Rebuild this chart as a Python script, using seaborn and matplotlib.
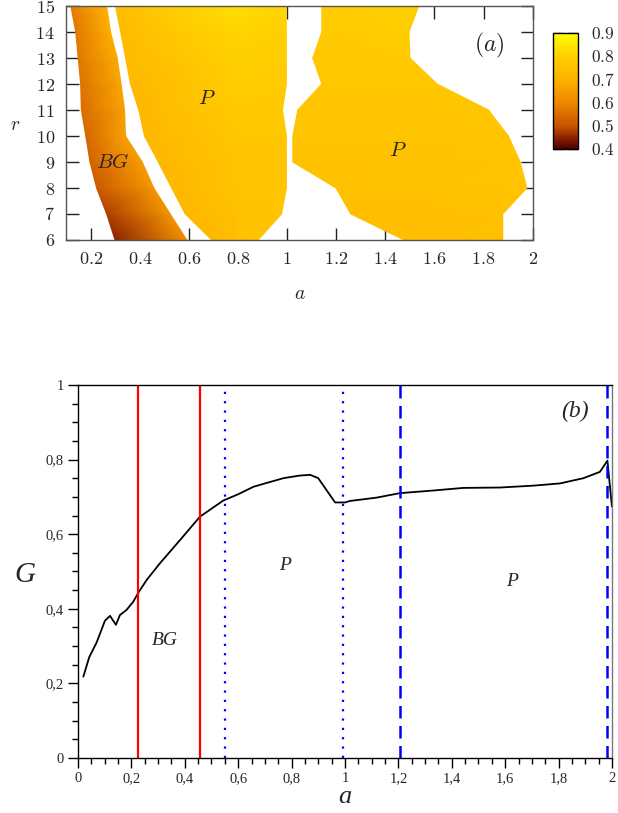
import numpy as np
import matplotlib
matplotlib.use("Agg")
import matplotlib.pyplot as plt
import matplotlib.tri as mtri
from matplotlib.colors import LinearSegmentedColormap
from matplotlib.ticker import MultipleLocator, FuncFormatter, FixedLocator
import seaborn as sns

# ------------------------------
# DATA - panel (a): phase regions in the (a, r) plane
# ------------------------------
r_rows = [6, 7, 8, 9, 10, 11, 12, 13, 14, 15]

# BG region (left strip)
bg_left_a = [0.299, 0.265, 0.224, 0.197, 0.180, 0.162, 0.159, 0.149, 0.139, 0.119]
bg_right_a = [0.592, 0.524, 0.457, 0.410, 0.342, 0.338, 0.324, 0.308, 0.281, 0.265]
bg_left_g = [0.45, 0.48, 0.51, 0.53, 0.54, 0.55, 0.56, 0.57, 0.57, 0.58]
bg_right_g = [0.62, 0.63, 0.64, 0.65, 0.66, 0.66, 0.67, 0.68, 0.69, 0.70]

# first P region
p1_left_a = [0.693, 0.585, 0.530, 0.475, 0.419, 0.396, 0.362, 0.342, 0.322, 0.301]
p1_mid_a = [0.80, 0.80, 0.80, 0.80, 0.80, 0.80, 0.80, 0.80, 0.80, 0.80]
p1_right_a = [0.882, 0.977, 0.997, 0.997, 0.997, 0.981, 0.997, 0.997, 0.997, 0.997]
p1_left_g = [0.72, 0.72, 0.72, 0.72, 0.72, 0.72, 0.72, 0.73, 0.73, 0.74]
p1_mid_g = [0.75, 0.75, 0.76, 0.76, 0.77, 0.78, 0.79, 0.80, 0.81, 0.83]
p1_right_g = [0.76, 0.76, 0.76, 0.76, 0.77, 0.77, 0.78, 0.79, 0.80, 0.81]

# second P region
p2_left_a = [1.476, 1.259, 1.199, 1.023, 1.023, 1.043, 1.141, 1.104, 1.141, 1.141]
p2_right_a = [1.878, 1.878, 1.976, 1.949, 1.901, 1.820, 1.611, 1.500, 1.496, 1.536]
p2_left_g = [0.74, 0.74, 0.75, 0.75, 0.76, 0.76, 0.77, 0.77, 0.78, 0.79]
p2_right_g = [0.75, 0.75, 0.76, 0.76, 0.76, 0.77, 0.77, 0.78, 0.79, 0.80]

cbar_ticks = [0.4, 0.5, 0.6, 0.7, 0.8, 0.9]
cmap_levels = [0.4, 0.45, 0.5, 0.6, 0.7, 0.8, 0.9]
cmap_colors = ["#4a0000", "#8e2400", "#c85400", "#ec8800", "#ffb200", "#ffd000", "#ffff00"]

# ------------------------------
# DATA - panel (b): G versus a
# ------------------------------
a_curve = [0.02, 0.042, 0.07, 0.101, 0.12, 0.142, 0.157, 0.182, 0.207, 0.226,
           0.257, 0.307, 0.382, 0.457, 0.544, 0.60, 0.657, 0.71, 0.769, 0.83,
           0.87, 0.90, 0.931, 0.963, 1.0, 1.019, 1.119, 1.206, 1.331, 1.443,
           1.58, 1.705, 1.805, 1.893, 1.955, 1.983, 2.0]
g_curve = [0.218, 0.27, 0.31, 0.368, 0.381, 0.357, 0.383, 0.397, 0.419, 0.443,
           0.477, 0.522, 0.584, 0.647, 0.69, 0.707, 0.727, 0.738, 0.750, 0.757,
           0.759, 0.75, 0.718, 0.685, 0.685, 0.689, 0.698, 0.71, 0.717, 0.724,
           0.725, 0.73, 0.736, 0.75, 0.767, 0.797, 0.674]

red_lines = [0.224, 0.457]
dotted_lines = [0.55, 0.992]
dashed_lines = [1.208, 1.983]

# ------------------------------
# STYLE
# ------------------------------
sns.set_style("ticks")
plt.rcParams["font.family"] = ["Liberation Serif", "DejaVu Serif"]
plt.rcParams["mathtext.fontset"] = "cm"

fig = plt.figure(figsize=(6.18, 8.13), dpi=100)

# ------------------------------
# PANEL (a)
# ------------------------------
ax1 = fig.add_axes([0.107, 0.7048, 0.755, 0.2878])
cmap = LinearSegmentedColormap.from_list(
    "gpal", [((v - 0.4) / 0.5, c) for v, c in zip(cmap_levels, cmap_colors)])


def draw_region(ax, cols_a, cols_g):
    ncol = len(cols_a)
    xs, ys, zs = [], [], []
    for i, r in enumerate(r_rows):
        for k in range(ncol):
            xs.append(cols_a[k][i])
            ys.append(r)
            zs.append(cols_g[k][i])
    tris = []
    for i in range(len(r_rows) - 1):
        for k in range(ncol - 1):
            p0 = i * ncol + k
            p1 = p0 + 1
            p2 = (i + 1) * ncol + k + 1
            p3 = (i + 1) * ncol + k
            tris.append([p0, p1, p2])
            tris.append([p0, p2, p3])
    tri = mtri.Triangulation(xs, ys, tris)
    return ax.tripcolor(tri, zs, cmap=cmap, vmin=0.4, vmax=0.9,
                        shading="gouraud", rasterized=True)


m = draw_region(ax1, [bg_left_a, bg_right_a], [bg_left_g, bg_right_g])
draw_region(ax1, [p1_left_a, p1_mid_a, p1_right_a], [p1_left_g, p1_mid_g, p1_right_g])
draw_region(ax1, [p2_left_a, p2_right_a], [p2_left_g, p2_right_g])

ax1.set_xlim(0.1, 2.0)
ax1.set_ylim(6, 15)
ax1.xaxis.set_major_locator(FixedLocator([0.2, 0.4, 0.6, 0.8, 1.0, 1.2, 1.4, 1.6, 1.8, 2.0]))
ax1.yaxis.set_major_locator(MultipleLocator(1))
ax1.xaxis.set_major_formatter(FuncFormatter(lambda v, p: f"${round(v, 2):g}$"))
ax1.yaxis.set_major_formatter(FuncFormatter(lambda v, p: f"${round(v, 2):g}$"))
ax1.tick_params(direction="in", length=9, width=1.0, color="#222222",
                top=True, right=True, labelsize=13, pad=8)
for s in ax1.spines.values():
    s.set_color("#555555")
    s.set_linewidth(1.0)
ax1.text(0.50, -0.235, "$a$", fontsize=14, ha="center", va="center",
         transform=ax1.transAxes)
ax1.text(-0.109, 0.49, "$r$", fontsize=14, ha="center", va="center",
         transform=ax1.transAxes)

ax1.text(1.824, 13.5, "$(a)$", fontsize=17, ha="center", va="center")
ax1.text(0.673, 11.41, "$P$", fontsize=15, ha="center", va="center")
ax1.text(0.292, 8.95, "$BG$", fontsize=15, ha="center", va="center")
ax1.text(1.449, 9.4, "$P$", fontsize=15, ha="center", va="center")

cax = fig.add_axes([0.895, 0.8167, 0.0405, 0.1427])
cb = fig.colorbar(m, cax=cax, ticks=cbar_ticks)
cb.outline.set_edgecolor("black")
cb.outline.set_linewidth(1.0)
cb.ax.yaxis.set_major_formatter(FuncFormatter(lambda v, p: f"${v:.1f}$"))
cb.ax.tick_params(direction="in", left=True, right=True, length=8,
                  width=1.0, color="#333333", labelsize=12.5, pad=9)

# ------------------------------
# PANEL (b)
# ------------------------------
ax2 = fig.add_axes([0.1262, 0.0677, 0.864, 0.4588])
sns.lineplot(x=a_curve, y=g_curve, color="black", linewidth=1.3, ax=ax2)

for xv in red_lines:
    ax2.axvline(xv, color="red", linewidth=1.6)
for xv in dotted_lines:
    ax2.axvline(xv, color="blue", linewidth=1.6, linestyle=(0, (1, 3.2)))
for xv in dashed_lines:
    ax2.axvline(xv, color="blue", linewidth=1.8, linestyle=(0, (5, 3)))

ax2.set_xlim(0, 2)
ax2.set_ylim(0, 1)
ax2.xaxis.set_major_locator(MultipleLocator(0.2))
ax2.xaxis.set_minor_locator(MultipleLocator(0.05))
ax2.yaxis.set_major_locator(MultipleLocator(0.2))
ax2.yaxis.set_minor_locator(MultipleLocator(0.05))
comma = FuncFormatter(lambda v, p: f"{round(v, 2):g}".replace(".", ","))
ax2.xaxis.set_major_formatter(comma)
ax2.yaxis.set_major_formatter(comma)
ax2.tick_params(which="major", direction="out", length=7, width=1.0,
                color="black", labelsize=10.5, pad=3)
ax2.tick_params(which="minor", direction="out", length=4, width=1.0, color="black")
for s in ax2.spines.values():
    s.set_visible(True)
    s.set_color("black")
    s.set_linewidth(1.0)
ax2.spines["right"].set_color("#777777")

ax2.text(0.50, -0.104, "a", fontsize=19, style="italic", ha="center", va="center",
         transform=ax2.transAxes)
ax2.text(-0.099, 0.49, "G", fontsize=21, style="italic", ha="center", va="center",
         transform=ax2.transAxes)
for t, xy, fs in [("(b)", (1.861, 0.928), 17), ("P", (0.775, 0.517), 14),
                  ("BG", (0.326, 0.316), 14), ("P", (1.625, 0.472), 14)]:
    ax2.text(xy[0], xy[1], t, fontsize=fs, style="italic", ha="center", va="center")

fig.savefig("out.png", dpi=100)
